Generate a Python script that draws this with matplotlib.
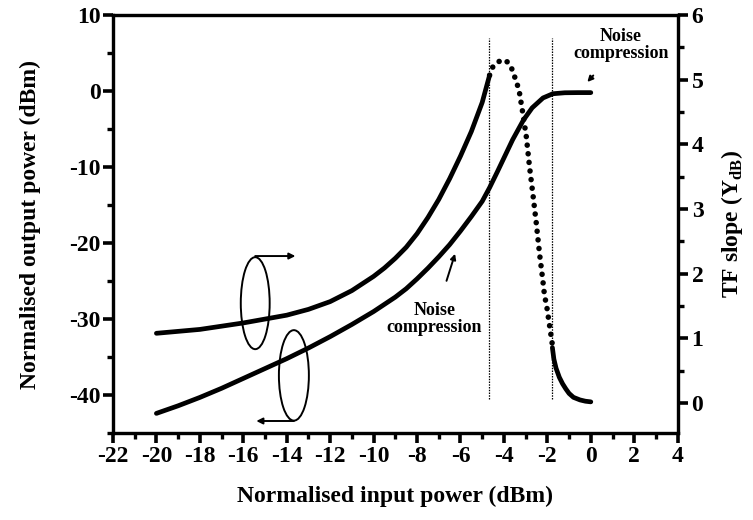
import matplotlib
matplotlib.use("Agg")
import matplotlib.pyplot as plt
from matplotlib.patches import Ellipse
from matplotlib.ticker import MultipleLocator

plt.rcParams['font.family'] = ['Liberation Serif', 'DejaVu Serif']
plt.rcParams['font.weight'] = 'bold'
plt.rcParams['axes.unicode_minus'] = False
plt.rcParams['mathtext.fontset'] = 'custom'
plt.rcParams['mathtext.rm'] = 'Liberation Serif:bold'
plt.rcParams['mathtext.bf'] = 'Liberation Serif:bold'

# Output power vs input power (left axis, dBm)
pin_out = [-20, -19, -18, -17, -16, -15, -14, -13, -12, -11, -10, -9, -8.5, -8,
           -7.5, -7, -6.5, -6, -5.5, -5, -4.66, -4.3, -4, -3.6, -3.1, -2.7, -2.2,
           -1.75, -1.2, -0.6, 0]
pout = [-42.4, -41.4, -40.3, -39.1, -37.8, -36.5, -35.2, -33.8, -32.3, -30.7,
        -29.0, -27.1, -26.0, -24.7, -23.3, -21.8, -20.2, -18.4, -16.5, -14.5,
        -12.7, -10.6, -8.8, -6.4, -3.8, -2.2, -0.9, -0.35, -0.22, -0.2, -0.2]

# Transfer-function slope (right axis): solid rising branch, dotted peak, solid tail
pin_slope1 = [-20, -19, -18, -17, -16, -15, -14, -13, -12, -11, -10, -9.5, -9,
              -8.5, -8, -7.5, -7, -6.5, -6, -5.5, -5, -4.66]
slope1 = [1.08, 1.11, 1.14, 1.19, 1.24, 1.30, 1.36, 1.45, 1.57, 1.74, 1.96, 2.09,
          2.24, 2.41, 2.62, 2.87, 3.15, 3.47, 3.82, 4.20, 4.65, 5.07]

pin_slope2 = [-4.66, -4.51, -4.3, -4.12, -3.95, -3.82, -3.65, -3.51, -3.38, -3.28,
              -3.13, -2.97, -2.82, -2.67, -2.51, -2.36, -2.21, -2.13, -2.04, -1.93,
              -1.82, -1.77]
slope2 = [5.07, 5.20, 5.27, 5.30, 5.30, 5.27, 5.18, 5.05, 4.92, 4.79,
          4.48, 4.12, 3.65, 3.24, 2.78, 2.31, 1.90, 1.66, 1.52, 1.27,
          1.02, 0.90]

pin_slope3 = [-1.77, -1.7, -1.6, -1.45, -1.3, -1.15, -1.0, -0.8, -0.5, -0.25, 0]
slope3 = [0.86, 0.68, 0.54, 0.40, 0.30, 0.22, 0.15, 0.09, 0.05, 0.03, 0.02]

# Bias boundaries of the steep region
vlines_x = [-4.7, -1.8]

xticks = list(range(-22, 5, 2))
yticks_left = [-40, -30, -20, -10, 0, 10]
yticks_right = [0, 1, 2, 3, 4, 5, 6]

fig = plt.figure(figsize=(7.53, 5.2), dpi=100)
ax = fig.add_axes([0.150, 0.167, 0.750, 0.804])
ax2 = ax.twinx()

fs = 17
lw_curve = 3.4

ax.plot(pin_out, pout, color='black', lw=lw_curve, solid_capstyle='round',
        solid_joinstyle='round')
ax2.plot(pin_slope1, slope1, color='black', lw=lw_curve, solid_capstyle='round',
         solid_joinstyle='round')
ax2.plot(pin_slope2, slope2, color='black', lw=4.0, linestyle=(0, (0.01, 1.55)),
         dash_capstyle='round')
ax2.plot(pin_slope3, slope3, color='black', lw=lw_curve, solid_capstyle='round',
         solid_joinstyle='round')

for xv in vlines_x:
    ax.plot([xv, xv], [-40.5, 7.0], color='black', lw=0.9, linestyle=(0, (1.2, 1.0)))

ax.set_xlim(-22, 4)
ax.set_ylim(-45, 10)
ax2.set_ylim(-0.464, 6)

ax.set_xticks(xticks)
ax.set_yticks(yticks_left)
ax2.set_yticks(yticks_right)
ax.xaxis.set_minor_locator(MultipleLocator(1))
ax.yaxis.set_minor_locator(MultipleLocator(5))
ax2.yaxis.set_minor_locator(MultipleLocator(0.5))

for a in (ax, ax2):
    for s in a.spines.values():
        s.set_linewidth(2.3)
ax.tick_params(axis='both', which='major', direction='out', length=7, width=2.6,
               labelsize=fs, pad=2)
ax.tick_params(axis='both', which='minor', direction='out', length=4.5, width=2.4)
ax.tick_params(axis='y', which='both', left=True, right=False)
ax.tick_params(axis='x', which='both', top=False)
ax2.tick_params(axis='y', which='major', direction='out', length=7, width=2.6,
                labelsize=fs, pad=3)
ax2.tick_params(axis='y', which='minor', direction='out', length=4.5, width=2.4)

ax.set_xlabel('Normalised input power (dBm)', fontsize=fs, fontweight='bold',
              labelpad=14)
ax.set_ylabel('Normalised output power (dBm)', fontsize=fs, fontweight='bold',
              labelpad=20)
ax2.set_ylabel(r'TF slope (Y$_{\mathbf{dB}}$)', fontsize=fs, fontweight='bold',
               labelpad=11)

# Ellipses marking which curve belongs to which axis
ax.add_patch(Ellipse((-15.45, -27.9), 1.33, 12.1, fill=False, lw=1.4, color='black'))
ax.annotate('', xy=(-13.6, -21.7), xytext=(-15.45, -21.7),
            arrowprops=dict(arrowstyle='-|>', lw=1.4, color='black',
                            mutation_scale=9, shrinkA=0, shrinkB=0))
ax.add_patch(Ellipse((-13.67, -37.4), 1.38, 11.9, fill=False, lw=1.4, color='black'))
ax.annotate('', xy=(-15.4, -43.4), xytext=(-13.67, -43.4),
            arrowprops=dict(arrowstyle='-|>', lw=1.4, color='black',
                            mutation_scale=9, shrinkA=0, shrinkB=0))

# Noise compression callouts
ax.annotate('Noise\ncompression', xy=(-0.16, 1.2), xytext=(1.38, 6.0),
            ha='center', va='center', fontsize=13, fontweight='bold', linespacing=1.0,
            arrowprops=dict(arrowstyle='-|>', lw=1.4, color='black',
                            mutation_scale=8, shrinkA=10, shrinkB=0))
ax.annotate('Noise\ncompression', xy=(-6.25, -21.4), xytext=(-7.2, -30.0),
            ha='center', va='center', fontsize=13, fontweight='bold', linespacing=1.0,
            arrowprops=dict(arrowstyle='-|>', lw=1.4, color='black',
                            mutation_scale=8, shrinkA=14, shrinkB=0))

fig.savefig('out.png', dpi=100)
